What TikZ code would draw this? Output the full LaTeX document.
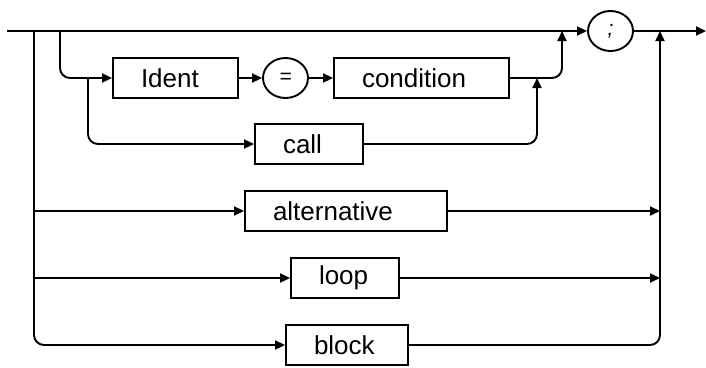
\documentclass[tikz,border=0pt]{standalone}
\usepackage{fontspec}
\setmainfont{Liberation Sans}
\usetikzlibrary{arrows.meta,shapes.geometric}
\newcommand\bxt[2]{\makebox[#1pt][l]{\hspace*{28pt}#2}}
\begin{document}
\begin{tikzpicture}[x=1pt,y=-1pt,line width=1.9pt,
  box/.style={draw,rectangle,inner sep=0pt,minimum height=40pt,font=\fontsize{26}{30}\selectfont},
  term/.style={draw,ellipse,inner sep=0pt,minimum width=45pt,minimum height=40pt,font=\fontsize{21}{24}\selectfont\itshape},
  arr/.style={-{Triangle[length=10pt,width=9pt]}},
  rc/.style={rounded corners=10pt}]
\useasboundingbox (0,0) rectangle (706,367);
% nodes
\node[box] (ident) at (175.5,78) {\bxt{125}{Ident}};
\node[term] (eq) at (285.5,78) {=};
\node[box] (cond) at (421.5,78) {\bxt{175}{condition}};
\node[box] (call) at (309,144) {\bxt{108}{call}};
\node[box] (alt) at (346,211) {\bxt{202}{alternative}};
\node[box] (loop) at (345,278) {\bxt{108}{loop}};
\node[box] (block) at (347,345) {\bxt{122}{block}};
\node[term] (semi) at (610.5,31) {;};
% coordinates
\coordinate (start) at (7,31);
\coordinate (end) at (706,31);
\coordinate (b1) at (34,31);
\coordinate (b2) at (60,31);
\coordinate (b3) at (88,78);
\coordinate (j1) at (562,31);
\coordinate (j2) at (537,78);
\coordinate (j3) at (660,31);
% main line
\draw[arr] (start) -- (semi.west);
\draw[arr] (semi.east) -- (end);
% upper branches
\draw[arr,rc] (b2) |- (ident.west);
\draw[arr] (ident.east) -- (eq.west);
\draw[arr] (eq.east) -- (cond.west);
\draw[arr,rc] (b3) |- (call.west);
\draw[arr,rc] (cond.east) -| (j1);
\draw[arr,rc] (call.east) -| (j2);
% lower branches
\draw[arr,rc] (b1) |- (block.west);
\draw[arr] (b1 |- alt.west) -- (alt.west);
\draw[arr] (b1 |- loop.west) -- (loop.west);
\draw[arr] (alt.east) -- (j3 |- alt.east);
\draw[arr] (loop.east) -- (j3 |- loop.east);
\draw[arr,rc] (block.east) -| (j3);
\end{tikzpicture}
\end{document}
